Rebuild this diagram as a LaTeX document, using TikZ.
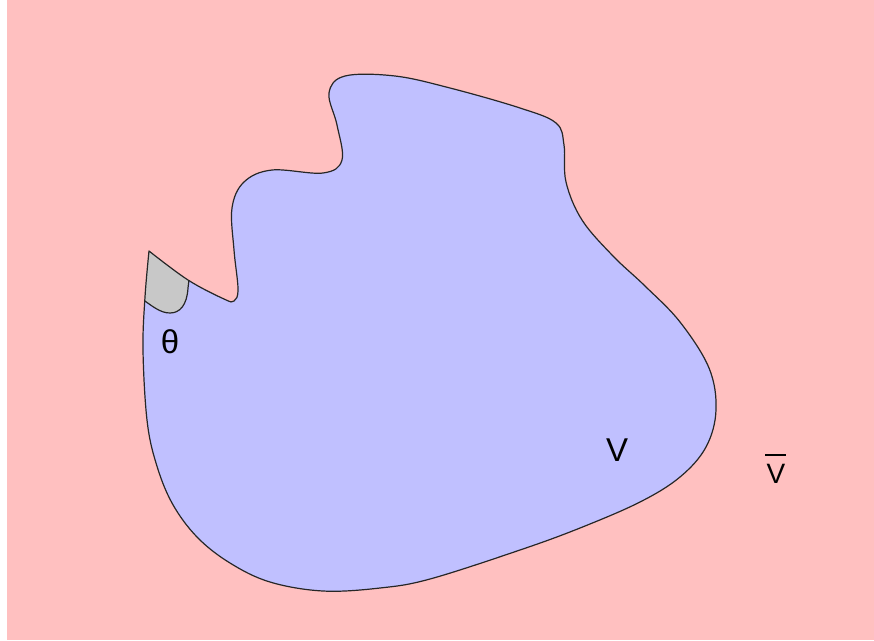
\documentclass[tikz,border=0pt]{standalone}
\usepackage{fontspec}
\setmainfont{Liberation Sans}
\definecolor{bgpink}{RGB}{255,192,192}
\definecolor{blobblue}{RGB}{192,192,255}
\definecolor{angrey}{RGB}{200,200,200}
\begin{document}
\begin{tikzpicture}[x=1pt,y=-1pt,
  outline/.style={draw=black!85,line width=1.2pt,line join=round},
  lab/.style={anchor=base,inner sep=0pt,font=\fontsize{33}{36}\selectfont}]
\useasboundingbox (0,0) rectangle (874,640);
\fill[white] (0,0) rectangle (874,640);
\fill[bgpink] (7,0) rectangle (874,640);
\def\blob{plot[smooth,tension=0.6] coordinates {(149,251) (188,280) (224,299) (234,301) (238,289) (234,250) (232,208) (244,182) (272,170) (323,173) (342,160) (337,125) (329,93) (345,76) (395,76) (450,88) (520,108) (556,123) (564,145) (566,182) (582,220) (613,256) (645,286) (680,322) (709,368) (716,410) (706,447) (680,477) (640,502) (580,528) (520,550) (430,579) (380,588) (323,591) (270,582) (230,563) (197,537) (172,503) (156,463) (147,420) (143,350) (145,297) (149,251)}}
\fill[blobblue] \blob -- cycle;
\begin{scope}
  \clip \blob -- cycle;
  \fill[angrey] (120,230) -- (200,230) -- (190,272) -- (188,288)
     .. controls (187,305) and (180,313) .. (170,313)
     .. controls (160,313) and (152,306) .. (138,296) -- (120,296) -- cycle;
  \draw[outline] (190,272) -- (188,288)
     .. controls (187,305) and (180,313) .. (170,313)
     .. controls (160,313) and (152,306) .. (138,296);
\end{scope}
\draw[outline] \blob -- cycle;
\node[lab] (theta) at (170,353) {θ};
\node[lab] (v) at (617,461) {V};
\node[lab,font=\fontsize{28}{31}\selectfont] (vbar) at (776,483) {\rlap{\hspace{-1.5pt}\rule[27.5pt]{21pt}{2pt}}V};
\end{tikzpicture}
\end{document}
